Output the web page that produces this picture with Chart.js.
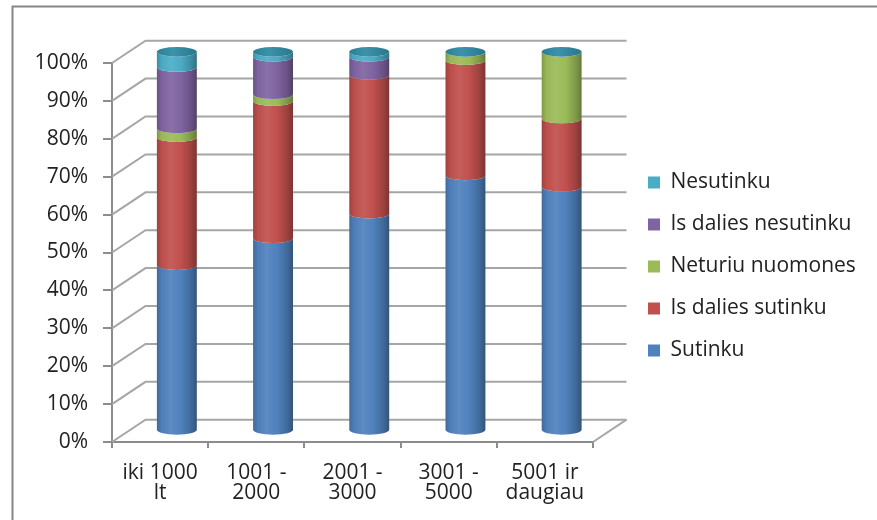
<!DOCTYPE html>
<html>
<head>
<meta charset="utf-8">
<script src="https://cdn.jsdelivr.net/npm/chart.js@4/dist/chart.umd.min.js"></script>
<style>
  html, body { margin: 0; padding: 0; background: #ffffff; }
  #wrap { width: 877px; height: 520px; position: relative; }
</style>
</head>
<body>
<div id="wrap"><canvas id="c" width="877" height="520"></canvas></div>
<script>
// Income groups (two-line labels) and answer shares in percent
const categories = [["iki 1000", "lt"], ["1001 -", "2000"], ["2001 -", "3000"], ["3001 -", "5000"], ["5001 ir", "daugiau"]];
const sutinku = [43.7, 50.8, 57.3, 67.4, 64.4];
const isDaliesSutinku = [33.8, 36.2, 36.6, 30.4, 18.0];
const neturiuNuomones = [2.3, 1.8, 0, 2.2, 17.6];
const isDaliesNesutinku = [16.2, 9.9, 4.8, 0, 0];
const nesutinku = [4.0, 1.3, 1.3, 0, 0];
const seriesNames = ["Sutinku", "Is dalies sutinku", "Neturiu nuomones", "Is dalies nesutinku", "Nesutinku"];
const seriesColors = ["#4F81BD", "#C0504D", "#9BBB59", "#8064A2", "#4BACC6"];
const yTicks = [0, 10, 20, 30, 40, 50, 60, 70, 80, 90, 100];

// depth of the 3D box (back wall offset) in pixels
const DEPTH_X = 33.5, DEPTH_Y = -22.3;
const RY = 4.8; // ellipse half-height of cylinder ends
const CAP_COLOR = "#2F8CA6";
const GRID_COLOR = "#A6A6A6";
const AXIS_COLOR = "#8C8C8C";
const TEXT_COLOR = "#222222";

function shade(hex, amt) {
  const n = parseInt(hex.slice(1), 16);
  let r = (n >> 16) & 255, g = (n >> 8) & 255, b = n & 255;
  const f = v => Math.max(0, Math.min(255, Math.round(amt >= 0 ? v + (255 - v) * amt : v * (1 + amt))));
  return "rgb(" + f(r) + "," + f(g) + "," + f(b) + ")";
}

Chart.defaults.font.family = "'Open Sans', 'Noto Sans', sans-serif";
Chart.defaults.font.size = 21;
Chart.defaults.color = TEXT_COLOR;

// back wall, floor and side lines of the 3D frame
const frame3d = {
  id: "frame3d",
  beforeDatasetsDraw(chart) {
    const ctx = chart.ctx;
    const ys = chart.scales.y;
    const L = chart.chartArea.left, R = chart.chartArea.right;
    ctx.save();
    ctx.strokeStyle = GRID_COLOR;
    ctx.lineWidth = 2;
    ctx.lineCap = "butt";
    yTicks.forEach(v => {
      const yp = ys.getPixelForValue(v);
      ctx.beginPath();
      ctx.moveTo(L, yp);
      ctx.lineTo(L + DEPTH_X, yp + DEPTH_Y);
      ctx.lineTo(R + DEPTH_X, yp + DEPTH_Y);
      ctx.stroke();
    });
    const y0 = ys.getPixelForValue(0);
    ctx.beginPath();
    ctx.moveTo(R, y0);
    ctx.lineTo(R + DEPTH_X, y0 + DEPTH_Y);
    ctx.stroke();
    ctx.restore();
  }
};

// stacked cylinders placed at mid depth of the box
const cylinders = {
  id: "cylinders",
  beforeDatasetsDraw(chart) {
    const ctx = chart.ctx;
    const n = chart.data.labels.length;
    const ox = DEPTH_X / 2, oy = DEPTH_Y / 2;
    for (let j = 0; j < n; j++) {
      let topY = null, cx = 0, rx = 0;
      chart.data.datasets.forEach((ds, i) => {
        const el = chart.getDatasetMeta(i).data[j];
        cx = el.x + ox;
        rx = el.width / 2;
        const yt = el.y + oy, yb = el.base + oy;
        topY = yt;
        if (yb - yt <= 0.01) return;
        const base = ds.backgroundColor;
        const g = ctx.createLinearGradient(cx - rx, 0, cx + rx, 0);
        g.addColorStop(0, shade(base, -0.18));
        g.addColorStop(0.12, shade(base, -0.02));
        g.addColorStop(0.35, shade(base, 0.08));
        g.addColorStop(0.6, base);
        g.addColorStop(0.85, shade(base, -0.18));
        g.addColorStop(1, shade(base, -0.35));
        ctx.save();
        ctx.beginPath();
        ctx.moveTo(cx - rx, yt);
        ctx.lineTo(cx - rx, yb);
        ctx.ellipse(cx, yb, rx, RY, 0, Math.PI, 0, true);
        ctx.lineTo(cx + rx, yt);
        ctx.ellipse(cx, yt, rx, RY, 0, 0, Math.PI, false);
        ctx.closePath();
        ctx.fillStyle = g;
        ctx.fill();
        ctx.restore();
      });
      // top cap
      const gc = ctx.createLinearGradient(cx - rx, 0, cx + rx, 0);
      gc.addColorStop(0, shade(CAP_COLOR, -0.1));
      gc.addColorStop(0.4, shade(CAP_COLOR, 0.06));
      gc.addColorStop(1, shade(CAP_COLOR, -0.15));
      ctx.save();
      ctx.beginPath();
      ctx.ellipse(cx, topY, rx, RY, 0, 0, Math.PI * 2);
      ctx.fillStyle = gc;
      ctx.fill();
      ctx.restore();
    }
    return false;
  }
};

// outer chart frame
const outerFrame = {
  id: "outerFrame",
  afterDraw(chart) {
    const ctx = chart.ctx;
    ctx.save();
    ctx.strokeStyle = "#868686";
    ctx.lineWidth = 2;
    ctx.strokeRect(12.5, 6.5, 1000, 1000);
    ctx.restore();
  }
};

const datasets = [sutinku, isDaliesSutinku, neturiuNuomones, isDaliesNesutinku, nesutinku].map((d, i) => ({
  label: seriesNames[i],
  data: d,
  backgroundColor: seriesColors[i],
  borderWidth: 0,
  barPercentage: 0.415,
  categoryPercentage: 1.0
}));

new Chart(document.getElementById("c"), {
  type: "bar",
  data: { labels: categories, datasets: datasets },
  plugins: [frame3d, cylinders, outerFrame],
  options: {
    responsive: false,
    animation: false,
    events: [],
    layout: { padding: { top: 63, right: 18, bottom: 0, left: 0 } },
    plugins: {
      tooltip: { enabled: false },
      legend: {
        position: "right",
        fullSize: false,
        reverse: true,
        maxWidth: 232,
        title: { display: true, text: " ", padding: 0, font: { size: 20, lineHeight: 1.4 } },
        labels: {
          boxWidth: 12,
          boxHeight: 12,
          padding: 21,
          color: TEXT_COLOR,
          font: { size: 21 }
        }
      }
    },
    scales: {
      x: {
        stacked: true,
        grid: { display: true, drawOnChartArea: false, drawTicks: true, tickLength: 6, color: AXIS_COLOR, lineWidth: 2, offset: true },
        border: { display: true, color: AXIS_COLOR, width: 2 },
        ticks: { padding: 15, maxRotation: 0, autoSkip: false, color: TEXT_COLOR, font: { size: 21, lineHeight: 0.96 } },
        afterFit(s) { s.height = 78; }
      },
      y: {
        stacked: true,
        min: 0,
        max: 100,
        afterBuildTicks(s) { s.ticks = yTicks.map(v => ({ value: v })); },
        grid: { display: true, drawOnChartArea: false, drawTicks: true, tickLength: 9, color: AXIS_COLOR, lineWidth: 2 },
        border: { display: true, color: AXIS_COLOR, width: 2 },
        ticks: { padding: 15, color: TEXT_COLOR, callback: v => v + "%" },
        afterFit(s) { s.width = 112; }
      },
      depthGap: {
        type: "linear",
        position: "right",
        display: true,
        grid: { display: false },
        border: { display: false },
        ticks: { display: false },
        afterFit(s) { s.width = 34; }
      }
    }
  }
});
</script>
</body>
</html>
